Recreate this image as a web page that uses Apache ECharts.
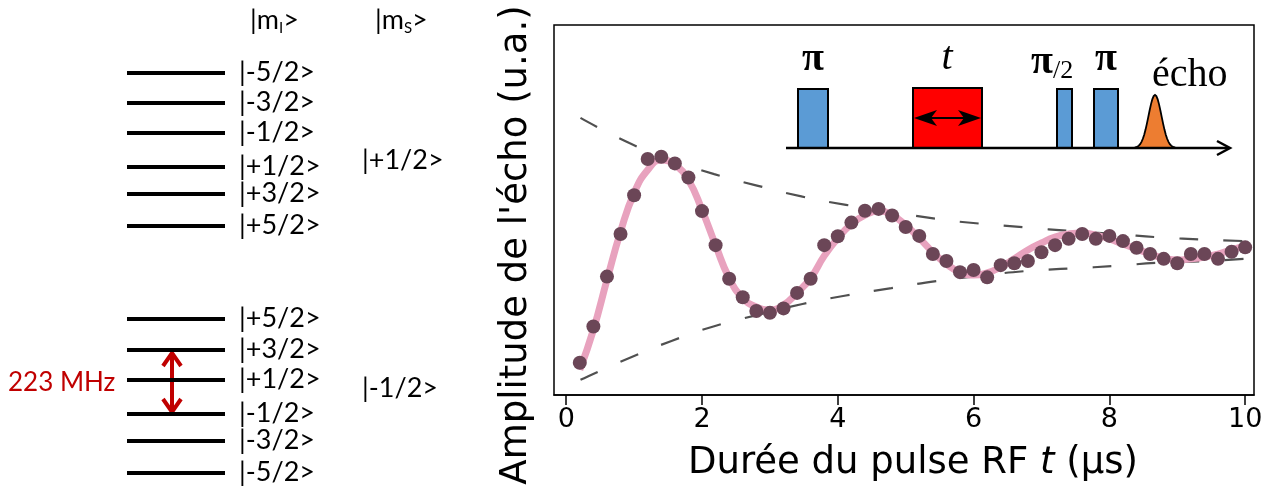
<!DOCTYPE html>
<html><head><meta charset="utf-8">
<script src="https://cdn.jsdelivr.net/npm/echarts@6/dist/echarts.min.js"></script>
<style>html,body{margin:0;padding:0;background:#fff}#c{width:1266px;height:500px}</style>
</head><body><div id="c"></div>
<script>
// ---- Data ----
const pulseTimes = [0.2,0.4,0.6,0.8,1.0,1.2,1.4,1.6,1.8,2.0,2.2,2.4,2.6,2.8,3.0,3.2,3.4,3.6,3.8,4.0,4.2,4.4,4.6,4.8,5.0,5.2,5.4,5.6,5.8,6.0,6.2,6.4,6.6,6.8,7.0,7.2,7.4,7.6,7.8,8.0,8.2,8.4,8.6,8.8,9.0,9.2,9.4,9.6,9.8,10.0];
const echoAmp = [8.7,18.5,32.0,43.5,54.0,63.8,64.4,62.6,58.8,49.7,40.5,31.4,26.4,22.7,22.2,23.4,27.6,31.4,40.5,42.9,46.6,49.8,50.3,48.5,45.4,43.0,38.1,36.2,33.2,33.8,31.8,35.1,35.6,36.2,38.6,40.5,42.2,43.5,42.2,43.0,41.6,39.8,38.1,36.8,35.6,38.1,38.1,36.8,38.7,39.9];
const fitTimes = [0.2,0.4,0.6,0.8,1.0,1.2,1.4,1.6,1.8,2.0,2.2,2.4,2.6,2.8,3.0,3.2,3.4,3.6,3.8,4.0,4.2,4.4,4.6,4.8,5.0,5.2,5.4,5.6,5.8,6.0,6.2,6.4,6.6,6.8,7.0,7.2,7.4,7.6,7.8,8.0,8.2,8.4,8.6,8.8,9.0,9.2,9.4,9.6,9.8,10.0];
const fitAmp = [6.8,17.6,31.1,44.1,54.6,60.8,63.5,62.2,58.1,50.0,40.5,31.6,26.2,23.8,23.0,24.3,27.6,31.6,37.6,42.4,46.2,48.6,49.7,48.6,45.9,42.4,38.6,35.4,33.2,32.4,33.0,34.6,36.8,39.2,41.1,42.7,43.5,43.8,43.2,42.2,40.8,39.5,38.1,37.0,36.5,36.8,37.3,38.1,39.2,40.3];
const envTimes = [0.21,0.93,1.55,2.18,2.81,3.48,4.12,4.79,5.45,6.10,6.77,7.44,8.10,8.75,9.41,10.0];
const envUpper = [74.9,68.1,63.5,59.7,56.6,53.6,51.4,49.5,47.6,46.3,45.3,44.3,43.5,42.6,42.0,41.6];
const envLower = [4.1,10.0,14.6,18.6,21.6,24.6,26.9,28.9,30.8,32.2,33.5,34.2,34.9,35.8,36.2,36.8];
const xTicks = [0,2,4,6,8,10];

// energy level diagram
const upperLevelPos = [73,103,133,167,194,226];
const upperLabels = ['|-5/2>','|-3/2>','|-1/2>','|+1/2>','|+3/2>','|+5/2>'];
const lowerLevelPos = [319,350,380,414,441,473];
const lowerLabels = ['|+5/2>','|+3/2>','|+1/2>','|-1/2>','|-3/2>','|-5/2>'];

const zip = (a,b) => a.map((v,i)=>[v,b[i]]);
const levels = zip(upperLevelPos.concat(lowerLevelPos), upperLabels.concat(lowerLabels));

const LF = 'Lato';
const SERIF = 'Liberation Serif';
const AF = 'DejaVu Sans';

// echo glyph outline
const echoPts = [];
for (let i=0;i<=40;i++){ const x=1128+i*1.35; const d=(x-1155)/6.5; echoPts.push([x,148-53*Math.exp(-d*d/2)]); }

const chart = echarts.init(document.getElementById('c'), null, {renderer:'canvas'});
chart.setOption({
  animation:false,
  backgroundColor:'#fff',
  grid:[
    {left:554, top:25, width:700, height:370, show:true, borderColor:'#000', borderWidth:1.5, backgroundColor:'transparent', containLabel:false, outerBoundsMode:'none'},
    {left:0, top:0, width:480, height:500, show:false, containLabel:false, outerBoundsMode:'none'}
  ],
  xAxis:[
    {gridIndex:0, type:'value', min:-0.18, max:10.13,
     axisLine:{show:true, lineStyle:{color:'#000', width:1.5}},
     splitLine:{show:false},
     axisTick:{show:true, customValues:xTicks, length:10, lineStyle:{color:'#000', width:1.5}},
     axisLabel:{customValues:xTicks, fontSize:27, color:'#000', fontFamily:AF, margin:11},
     name:'Durée du pulse RF {i|t} (µs)', nameLocation:'middle', nameGap:50,
     nameTextStyle:{fontSize:37, color:'#000', fontFamily:AF, padding:[0,0,0,18], rich:{i:{fontSize:37, fontStyle:'italic', fontFamily:AF, color:'#000'}}}
    },
    {gridIndex:1, type:'value', min:0, max:480, show:false}
  ],
  yAxis:[
    {gridIndex:0, type:'value', min:0, max:100,
     axisLine:{show:false}, axisTick:{show:false}, axisLabel:{show:false}, splitLine:{show:false}
    },
    {gridIndex:1, type:'value', min:0, max:500, inverse:true, show:false}
  ],
  series:[
    {type:'line', xAxisIndex:0, yAxisIndex:0, data:zip(envTimes, envUpper), smooth:true, showSymbol:false,
     lineStyle:{color:'#505050', width:2.2, type:[19,25]}, z:1},
    {type:'line', xAxisIndex:0, yAxisIndex:0, data:zip(envTimes, envLower), smooth:true, showSymbol:false,
     lineStyle:{color:'#505050', width:2.2, type:[19,25]}, z:1},
    {type:'line', xAxisIndex:0, yAxisIndex:0, data:zip(fitTimes, fitAmp), smooth:true, showSymbol:false,
     lineStyle:{color:'#E8A2BE', width:7}, z:2},
    {type:'scatter', xAxisIndex:0, yAxisIndex:0, data:zip(pulseTimes, echoAmp), symbolSize:14,
     itemStyle:{color:'#6B4657', opacity:1}, z:3},
    {type:'custom', xAxisIndex:1, yAxisIndex:1, data:levels, silent:true,
     renderItem:(params, api)=>{
       const y = api.value(0);
       const p1 = api.coord([127, y]), p2 = api.coord([225, y]);
       return {type:'group', children:[
         {type:'line', shape:{x1:p1[0], y1:p1[1], x2:p2[0], y2:p2[1]}, style:{stroke:'#000', lineWidth:4}},
         {type:'text', x:239, y:p1[1]-1, style:{text:levels[params.dataIndex][1], fill:'#000', font:'27px '+LF, textVerticalAlign:'middle', textAlign:'left'}}
       ]};
     }}
  ],
  graphic:[
    // y-axis title
    {type:'text', x:516, y:245, rotation:Math.PI/2, style:{text:"Amplitude de l'écho (u.a.)", fill:'#000', font:'37px "DejaVu Sans"', textAlign:'center', textVerticalAlign:'middle'}},
    // left panel headers
    {type:'text', x:250, y:20, style:{text:'|m{s|I}>', rich:{s:{fontSize:15, fontFamily:LF, padding:[16,0,0,0]}}, fill:'#000', font:'27px '+LF, textVerticalAlign:'middle'}},
    {type:'text', x:375, y:20, style:{text:'|m{s|S}>', rich:{s:{fontSize:15, fontFamily:LF, padding:[16,0,0,0]}}, fill:'#000', font:'27px '+LF, textVerticalAlign:'middle'}},
    {type:'text', x:362, y:160, style:{text:'|+1/2>', fill:'#000', font:'27px '+LF, textVerticalAlign:'middle'}},
    {type:'text', x:362, y:388, style:{text:'|-1/2>', fill:'#000', font:'27px '+LF, textVerticalAlign:'middle'}},
    {type:'text', x:8, y:383, style:{text:'223 MHz', fill:'#C00000', font:'26px '+LF, textVerticalAlign:'middle'}},
    {type:'line', shape:{x1:172, y1:354, x2:172, y2:411}, style:{stroke:'#C00000', lineWidth:4}},
    {type:'polyline', shape:{points:[[163,366],[172,353],[181,366]]}, style:{stroke:'#C00000', lineWidth:4, fill:null}},
    {type:'polyline', shape:{points:[[163,399],[172,412],[181,399]]}, style:{stroke:'#C00000', lineWidth:4, fill:null}},
    // pulse sequence inset
    {type:'rect', shape:{x:798, y:89, width:30, height:59}, style:{fill:'#5B9BD5', stroke:'#000', lineWidth:2}, z:10},
    {type:'rect', shape:{x:913, y:88, width:69, height:60}, style:{fill:'#FF0000', stroke:'#000', lineWidth:2}, z:10},
    {type:'line', shape:{x1:925, y1:118, x2:970, y2:118}, style:{stroke:'#000', lineWidth:1.8}, z:11},
    {type:'polygon', shape:{points:[[914,118],[937,110],[931,118],[937,126]]}, style:{fill:'#000'}, z:11},
    {type:'polygon', shape:{points:[[981,118],[958,110],[964,118],[958,126]]}, style:{fill:'#000'}, z:11},
    {type:'rect', shape:{x:1057, y:89, width:15, height:59}, style:{fill:'#5B9BD5', stroke:'#000', lineWidth:2}, z:10},
    {type:'rect', shape:{x:1094, y:89, width:24, height:59}, style:{fill:'#5B9BD5', stroke:'#000', lineWidth:2}, z:10},
    {type:'polygon', shape:{points:echoPts}, style:{fill:'#ED7D31', stroke:'#000', lineWidth:1.8}, z:10},
    {type:'line', shape:{x1:786, y1:148, x2:1229, y2:148}, style:{stroke:'#000', lineWidth:2.5}, z:12},
    {type:'polyline', shape:{points:[[1217,141],[1230,148],[1217,155]]}, style:{stroke:'#000', lineWidth:2.5, fill:null}, z:12},
    {type:'text', x:813, y:60, style:{text:'π', fill:'#000', font:'bold 40px '+SERIF, textAlign:'center', textVerticalAlign:'middle'}, z:12},
    {type:'text', x:947, y:58, style:{text:'t', fill:'#000', font:'italic 40px '+SERIF, textAlign:'center', textVerticalAlign:'middle'}, z:12},
    {type:'text', x:1031, y:42, style:{text:'π{s|/2}', fill:'#000', font:'bold 40px '+SERIF, rich:{s:{fontSize:26, fontFamily:SERIF, padding:[16,0,0,0]}}}, z:12},
    {type:'text', x:1106, y:60, style:{text:'π', fill:'#000', font:'bold 40px '+SERIF, textAlign:'center', textVerticalAlign:'middle'}, z:12},
    {type:'text', x:1152, y:75, style:{text:'écho', fill:'#000', font:'40px '+SERIF, textVerticalAlign:'middle'}, z:12}
  ]
});
</script>
</body></html>
